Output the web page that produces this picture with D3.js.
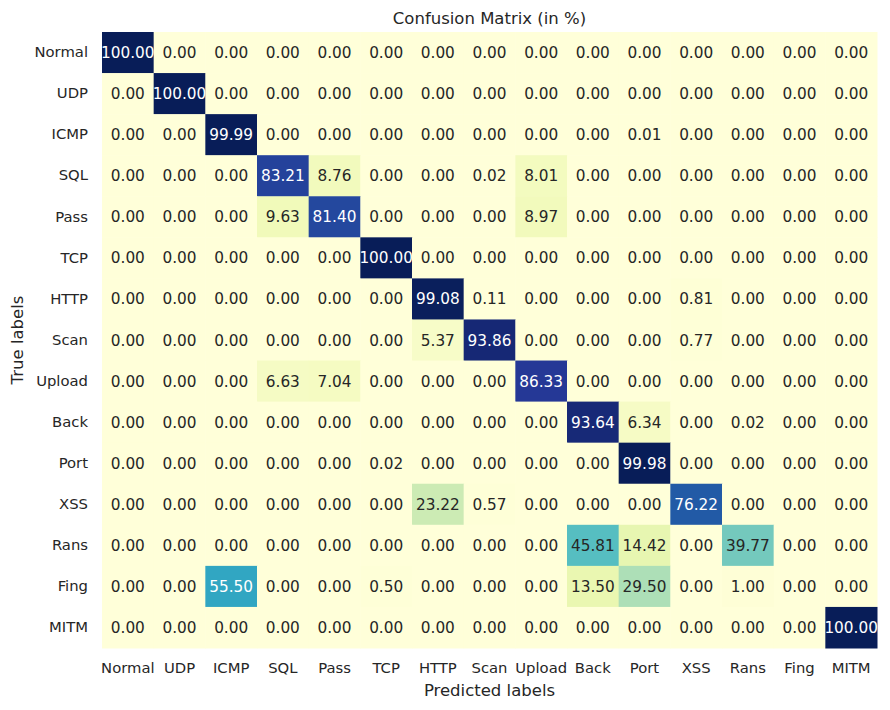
<!DOCTYPE html>
<html>
<head>
<meta charset="utf-8">
<title>Confusion Matrix</title>
<script src="https://d3js.org/d3.v7.min.js"></script>
<style>
  body { margin: 0; background: #fff; }
  text { font-family: "DejaVu Sans", sans-serif; }
</style>
</head>
<body>
<div id="chart"></div>
<script>
var predLabels = ["Normal", "UDP", "ICMP", "SQL", "Pass", "TCP", "HTTP", "Scan", "Upload", "Back", "Port", "XSS", "Rans", "Fing", "MITM"];
var trueLabels = ["Normal", "UDP", "ICMP", "SQL", "Pass", "TCP", "HTTP", "Scan", "Upload", "Back", "Port", "XSS", "Rans", "Fing", "MITM"];

// rows = true label, columns = predicted label (percent)
var rowNormal = [100, 0, 0, 0, 0, 0, 0, 0, 0, 0, 0, 0, 0, 0, 0];
var rowUDP    = [0, 100, 0, 0, 0, 0, 0, 0, 0, 0, 0, 0, 0, 0, 0];
var rowICMP   = [0, 0, 99.99, 0, 0, 0, 0, 0, 0, 0, 0.01, 0, 0, 0, 0];
var rowSQL    = [0, 0, 0, 83.21, 8.76, 0, 0, 0.02, 8.01, 0, 0, 0, 0, 0, 0];
var rowPass   = [0, 0, 0, 9.63, 81.40, 0, 0, 0, 8.97, 0, 0, 0, 0, 0, 0];
var rowTCP    = [0, 0, 0, 0, 0, 100, 0, 0, 0, 0, 0, 0, 0, 0, 0];
var rowHTTP   = [0, 0, 0, 0, 0, 0, 99.08, 0.11, 0, 0, 0, 0.81, 0, 0, 0];
var rowScan   = [0, 0, 0, 0, 0, 0, 5.37, 93.86, 0, 0, 0, 0.77, 0, 0, 0];
var rowUpload = [0, 0, 0, 6.63, 7.04, 0, 0, 0, 86.33, 0, 0, 0, 0, 0, 0];
var rowBack   = [0, 0, 0, 0, 0, 0, 0, 0, 0, 93.64, 6.34, 0, 0.02, 0, 0];
var rowPort   = [0, 0, 0, 0, 0, 0.02, 0, 0, 0, 0, 99.98, 0, 0, 0, 0];
var rowXSS    = [0, 0, 0, 0, 0, 0, 23.22, 0.57, 0, 0, 0, 76.22, 0, 0, 0];
var rowRans   = [0, 0, 0, 0, 0, 0, 0, 0, 0, 45.81, 14.42, 0, 39.77, 0, 0];
var rowFing   = [0, 0, 55.50, 0, 0, 0.50, 0, 0, 0, 13.50, 29.50, 0, 1.00, 0, 0];
var rowMITM   = [0, 0, 0, 0, 0, 0, 0, 0, 0, 0, 0, 0, 0, 0, 100];

var matrix = [rowNormal, rowUDP, rowICMP, rowSQL, rowPass, rowTCP, rowHTTP, rowScan,
              rowUpload, rowBack, rowPort, rowXSS, rowRans, rowFing, rowMITM];

var width = 890, height = 710;
var mLeft = 102, mRight = 877, mTop = 32, mBottom = 648;
var ink = "#262626";

var cells = [];
matrix.forEach(function(row, i) {
  row.forEach(function(v, j) {
    cells.push({t: trueLabels[i], p: predLabels[j], v: v});
  });
});

var x = d3.scaleBand().domain(predLabels).range([mLeft, mRight]);
var y = d3.scaleBand().domain(trueLabels).range([mTop, mBottom]);

// matplotlib YlGnBu, linear between the 9 brewer stops
var ylgnbu = ["#ffffd9", "#edf8b1", "#c7e9b4", "#7fcdbb", "#41b6c4", "#1d91c0", "#225ea8", "#253494", "#081d58"];
var vmax = d3.max(matrix, r => d3.max(r));
var color = d3.scaleLinear()
  .domain(d3.range(9).map(k => k * vmax / 8))
  .range(ylgnbu)
  .interpolate(d3.interpolateRgb);

function luminance(c) {
  var rgb = d3.rgb(c);
  var f = function(u) { u /= 255; return u <= 0.03928 ? u / 12.92 : Math.pow((u + 0.055) / 1.055, 2.4); };
  return 0.2126 * f(rgb.r) + 0.7152 * f(rgb.g) + 0.0722 * f(rgb.b);
}

var svg = d3.select("#chart").append("svg")
  .attr("width", width)
  .attr("height", height);

svg.append("g").selectAll("rect")
  .data(cells)
  .enter().append("rect")
  .attr("x", d => x(d.p))
  .attr("y", d => y(d.t))
  .attr("width", x.bandwidth() + 0.5)
  .attr("height", y.bandwidth() + 0.5)
  .attr("fill", d => color(d.v));

svg.append("g").selectAll("text")
  .data(cells)
  .enter().append("text")
  .attr("x", d => x(d.p) + x.bandwidth() / 2)
  .attr("y", d => y(d.t) + y.bandwidth() / 2)
  .attr("dy", "0.36em")
  .attr("text-anchor", "middle")
  .style("font-size", "15.3px")
  .attr("fill", d => luminance(color(d.v)) > 0.408 ? ink : "#ffffff")
  .text(d => d.v.toFixed(2));

var xAxis = d3.axisBottom(x).tickSize(0).tickPadding(14);
var gX = svg.append("g")
  .attr("transform", "translate(0," + mBottom + ")")
  .call(xAxis);

var yAxis = d3.axisLeft(y).tickSize(0).tickPadding(14);
var gY = svg.append("g")
  .attr("transform", "translate(" + mLeft + ",0)")
  .call(yAxis);

[gX, gY].forEach(function(g) {
  g.select(".domain").remove();
  g.selectAll("text")
    .attr("fill", ink)
    .style("font-family", "DejaVu Sans, sans-serif")
    .style("font-size", "14.8px");
});

svg.append("text")
  .attr("x", (mLeft + mRight) / 2)
  .attr("y", 24)
  .attr("text-anchor", "middle")
  .attr("fill", ink)
  .style("font-size", "16.5px")
  .text("Confusion Matrix (in %)");

svg.append("text")
  .attr("x", (mLeft + mRight) / 2)
  .attr("y", 696)
  .attr("text-anchor", "middle")
  .attr("fill", ink)
  .style("font-size", "16.5px")
  .text("Predicted labels");

svg.append("text")
  .attr("transform", "translate(23," + ((mTop + mBottom) / 2) + ") rotate(-90)")
  .attr("text-anchor", "middle")
  .attr("fill", ink)
  .style("font-size", "16.5px")
  .text("True labels");
</script>
</body>
</html>
